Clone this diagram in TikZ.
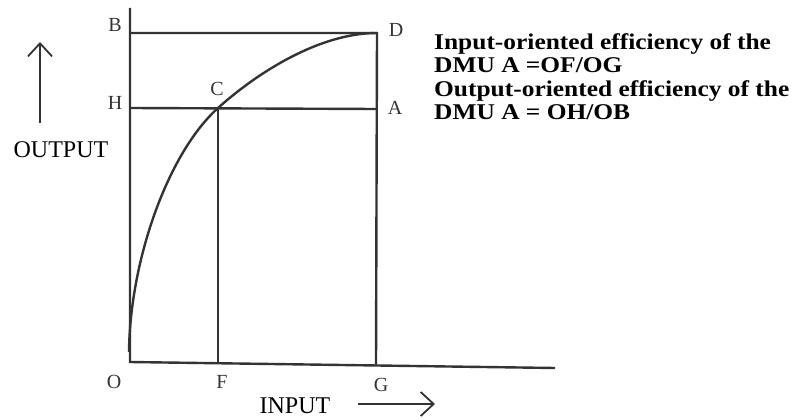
\documentclass[tikz,border=0pt]{standalone}
\usepackage{fontspec}
\setmainfont{Liberation Serif}
\newfontface\txtbf[FakeStretch=1.13]{Liberation Serif Bold}
\usetikzlibrary{arrows.meta}
\definecolor{linegray}{HTML}{333333}
\tikzset{
  ln/.style={draw=linegray, line width=2.4pt},
  pt/.style={font=\fontsize{20}{20}\selectfont, text=linegray, inner sep=0pt},
  axlabel/.style={font=\fontsize{24}{24}\selectfont, inner sep=0pt},
  dir/.style={draw=linegray, line width=1.6pt, -{Straight Barb[length=13pt,width=24pt,line width=1.8pt]}},
}
\begin{document}
\begin{tikzpicture}[x=1pt,y=-1pt]
\useasboundingbox (0,0) rectangle (795,420);
% corner coordinates
\coordinate (Otop) at (130,8);
\coordinate (O) at (130,362);
\coordinate (Xend) at (555,368);
\coordinate (Bp) at (130,33);
\coordinate (Dp) at (377,33);
\coordinate (Gp) at (376,365);
\coordinate (Hp) at (130,108);
\coordinate (Ap) at (377,109);
\coordinate (Cp) at (218,108);
\coordinate (Fp) at (218,363);
\coordinate (Cs) at (129,352);
% axes and grid lines
\draw[ln] (Otop) -- (O) -- (Xend);
\draw[ln] (Bp) -- (Dp) -- (Gp);
\draw[ln] (Hp) -- (Ap);
\draw[ln] (Cp) -- (Fp);
% frontier curve
\draw[ln] (Cs) .. controls (130,260) and (168,153) .. (Cp)
               .. controls (258,72) and (320,33) .. (Dp);
% point labels
\node[pt] (B) at (115,25) {B};
\node[pt] (H) at (115,103) {H};
\node[pt] (C) at (217,89) {C};
\node[pt] (D) at (396,30) {D};
\node[pt] (A) at (395,108) {A};
\node[pt] (Ol) at (114,382) {O};
\node[pt] (F) at (222,382) {F};
\node[pt] (G) at (381,385) {G};
% axis labels and arrows
\node[axlabel] (out) at (61,150) {OUTPUT};
\node[axlabel] (inp) at (295,406) {INPUT};
\coordinate (uA) at (40,123);
\coordinate (uB) at (40,42);
\draw[dir] (uA) -- (uB);
\coordinate (rA) at (358,404);
\coordinate (rB) at (435,404);
\draw[dir] (rA) -- (rB);
% explanation text
\node[anchor=base west, inner sep=0pt, font=\txtbf\fontsize{22.5}{22.5}\selectfont] (t1) at (434,50) {Input-oriented efficiency of the};
\node[anchor=base west, inner sep=0pt, font=\txtbf\fontsize{22.5}{22.5}\selectfont] (t2) at (434,73) {DMU A =OF/OG};
\node[anchor=base west, inner sep=0pt, font=\txtbf\fontsize{22.5}{22.5}\selectfont] (t3) at (434,96) {Output-oriented efficiency of the};
\node[anchor=base west, inner sep=0pt, font=\txtbf\fontsize{22.5}{22.5}\selectfont] (t4) at (434,119) {DMU A = OH/OB};
\end{tikzpicture}
\end{document}
